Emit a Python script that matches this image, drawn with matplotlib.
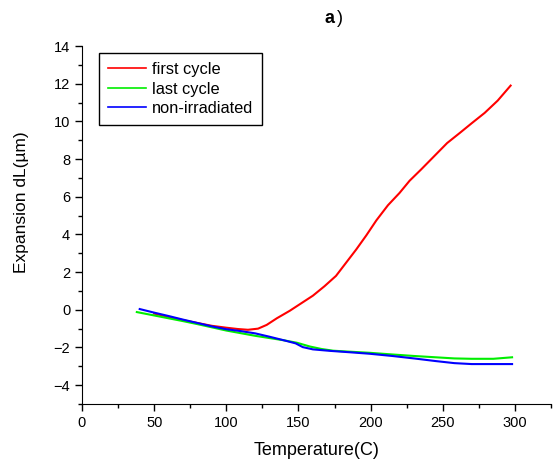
import matplotlib
matplotlib.use("Agg")
import matplotlib.pyplot as plt
from matplotlib.ticker import MultipleLocator

plt.rcParams['font.family'] = ['Liberation Sans', 'DejaVu Sans']

first_x = [50, 60, 70, 80, 90, 100, 108, 115, 122, 128, 135, 144, 152, 160, 168, 176, 183, 190, 197, 204, 212, 220, 227, 235, 244, 253, 262, 270, 279, 288, 297]
first_y = [-0.2, -0.38, -0.55, -0.7, -0.85, -0.95, -1.02, -1.06, -1.0, -0.8, -0.45, -0.05, 0.35, 0.75, 1.25, 1.8, 2.5, 3.2, 3.95, 4.75, 5.55, 6.2, 6.85, 7.45, 8.15, 8.85, 9.4, 9.9, 10.45, 11.1, 11.9]

last_x = [38, 50, 60, 70, 80, 90, 100, 110, 120, 130, 140, 149, 158, 166, 174, 185, 199, 215, 230, 245, 258, 270, 285, 298]
last_y = [-0.12, -0.3, -0.45, -0.6, -0.76, -0.93, -1.1, -1.24, -1.38, -1.5, -1.62, -1.75, -1.95, -2.08, -2.17, -2.22, -2.28, -2.37, -2.45, -2.52, -2.58, -2.6, -2.6, -2.52]

non_x = [40, 50, 60, 70, 80, 90, 100, 110, 120, 130, 140, 148, 153, 160, 172, 185, 199, 215, 230, 245, 258, 270, 285, 298]
non_y = [0.04, -0.15, -0.33, -0.52, -0.7, -0.88, -1.03, -1.13, -1.25, -1.43, -1.62, -1.78, -1.98, -2.1, -2.18, -2.25, -2.33, -2.45, -2.58, -2.72, -2.83, -2.88, -2.88, -2.88]

fig = plt.figure(figsize=(5.6, 4.62), dpi=100)
ax = fig.add_axes([0.1464, 0.1255, 0.8376, 0.7749])

ax.plot(first_x, first_y, color='#ff0000', lw=1.5, label='first cycle')
ax.plot(last_x, last_y, color='#00ee00', lw=1.5, label='last cycle')
ax.plot(non_x, non_y, color='#0000ff', lw=1.5, label='non-irradiated')

ax.set_xlim(0, 325)
ax.set_ylim(-5, 14)
ax.xaxis.set_major_locator(MultipleLocator(50))
ax.xaxis.set_minor_locator(MultipleLocator(25))
ax.yaxis.set_minor_locator(MultipleLocator(1))
ax.set_yticks([-4, -2, 0, 2, 4, 6, 8, 10, 12, 14])
ax.spines['top'].set_visible(False)
ax.spines['right'].set_visible(False)
ax.tick_params(axis='both', which='major', direction='out', length=5, width=1, labelsize=10.5)
ax.tick_params(axis='both', which='minor', direction='out', length=3, width=1)

ax.set_xlabel('Temperature(C)', fontsize=13, labelpad=8.5)
ax.set_ylabel('Expansion dL(\u00b5m)', fontsize=12.5)
ax.yaxis.set_label_coords(-0.112, 0.565)

leg = ax.legend(loc='upper left', bbox_to_anchor=(0.036, 0.98), fontsize=11.8,
                frameon=True, fancybox=False, edgecolor='black', framealpha=1,
                handlelength=2.3, handletextpad=0.4, borderpad=0.55, labelspacing=0.27,
                borderaxespad=0)
leg.get_frame().set_linewidth(1.0)
for line in leg.get_lines():
    line.set_linewidth(1.2)

fig.text(0.589, 0.96, 'a', fontsize=13, fontweight='bold', ha='center', va='center')
fig.text(0.607, 0.96, ')', fontsize=13, ha='center', va='center')

fig.savefig('out.png', dpi=100)
